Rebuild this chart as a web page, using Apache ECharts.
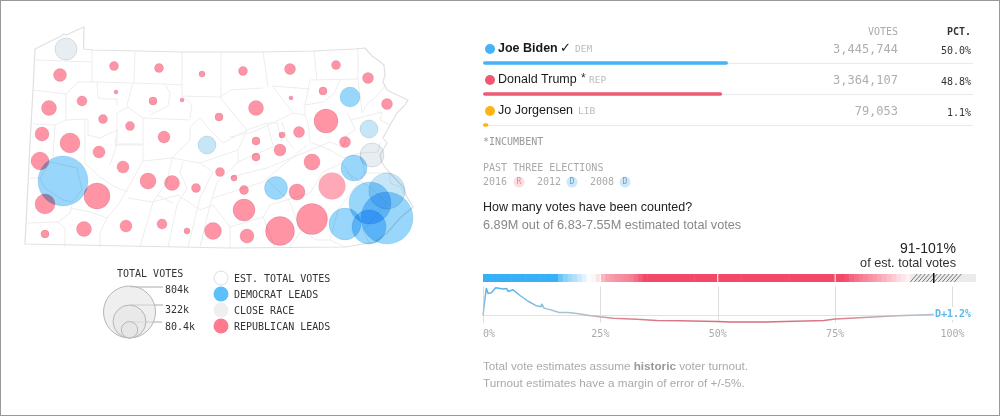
<!DOCTYPE html>
<html><head><meta charset="utf-8">
<style>html,body{margin:0;padding:0;background:#fff}#c{width:1000px;height:416px;position:absolute;left:0;top:0}
#f{position:absolute;left:0;top:0;width:1000px;height:416px;box-sizing:border-box;border:1px solid #999;pointer-events:none}</style>
<script src="https://cdn.jsdelivr.net/npm/echarts@6/dist/echarts.min.js"></script>
</head><body><div id="c"></div><div id="f"></div>
<script>
// County bubbles: [mapX, mapY, total votes in thousands]
const repCounties=[[60,75,50],[114,66,24],[159,68,24],[202,74,11],[49,108,67],[82,101,30],[116,92,5],[153,101,19],[182,100,5],[219,117,19],[103,119,24],[130,126,24],[42,134,58],[70,143,119],[164,137,43],[243,71,24],[290,69,36],[336,65,24],[368,78,36],[387,104,36],[323,91,19],[291,98,5],[256,108,67],[326,121,171],[299,132,36],[282,135,11],[256,141,19],[345,142,36],[99,152,43],[123,167,43],[40,161,96],[97,196,201],[148,181,76],[172,183,67],[196,188,24],[220,172,24],[45,204,119],[45,234,19],[84,229,67],[126,226,43],[162,224,30],[187,231,11],[213,231,86],[280,150,43],[256,157,19],[234,178,11],[244,190,24],[312,162,76],[297,192,76],[244,210,144],[312,219,286],[280,231,250],[247,236,58]];
const repFaintCounties=[[332,186,217]];
const demCounties=[[63,181,743],[350,97,119],[354,168,201],[276,188,157],[370,203,524],[345,224,304],[369,227,344],[387,218,804]];
const demFaintCounties=[[207,145,96],[369,129,96],[387,191,385]];
const closeCounties=[[66,49,144],[372,155,171]];
const legendSizes=[[129.5,312,804],[129.5,321.5,322],[129.5,329.8,80.4]];
const sizeTicks=['804k','322k','80.4k'];
const keyLabels=['EST. TOTAL VOTES','DEMOCRAT LEADS','CLOSE RACE','REPUBLICAN LEADS'];
// State and county boundaries in map units
const stateOutline=[[35,49],[61,36],[63,34],[66,35],[84,27],[83.5,49],[93,50],[182,52],[230,52],[264,52],[314,51],[355,49],[365,48],[372,56],[378,60],[384,65],[385,75],[383,82],[387,90],[395,94],[408,100],[405,105],[397,113],[390,125],[383,138],[387,143],[380,155],[382,163],[389,172],[403,187],[407,197],[413,207],[400,218],[387,233],[375,242],[345,247],[230,248],[25,244],[30,143],[33,90],[35,49]];
const countyLines=[
[[35,60],[92,62]],[[92,50],[92,82]],[[135,52],[134,83]],[[182,52],[182,96]],[[221,53],[221,97],[230,90],[263,88]],[[263,52],[268,87]],[[314,51],[317,80]],
[[358,49],[358,80],[362,113]],[[272,86],[310,89]],[[310,80],[358,79]],[[310,80],[305,105],[323,102],[334,94],[340,80]],[[347,113],[351,120]],[[362,113],[368,103],[376,97],[385,86]],
[[351,120],[382,112],[380,120],[390,125]],[[351,120],[355,130],[347,135],[343,147]],[[305,105],[305,115],[293,113],[273,87]],[[293,113],[273,123],[253,132],[230,137]],
[[33,90],[66,94],[78,82],[97,82],[133,83],[165,84],[182,85]],[[182,96],[221,97]],[[97,82],[98,98],[105,99],[117,99],[117,106]],[[66,94],[66,120],[88,119]],[[33,124],[55,125],[66,120]],[[55,125],[53,157]],
[[133,83],[127,105],[128,107]],[[165,84],[170,93],[168,106],[150,115]],[[182,96],[192,105],[190,118]],[[221,97],[222,100],[247,130]],[[247,130],[223,143],[210,130],[200,118],[190,127],[190,140],[172,158],[143,161]],
[[172,158],[200,163],[238,150],[247,130]],[[143,118],[190,120]],[[143,118],[143,161]],[[143,144],[117,144]],[[117,113],[117,144],[110,165]],[[117,113],[128,107],[143,118]],[[88,119],[88,135],[100,138],[117,130]],[[85,120],[85,163],[100,177]],
[[117,130],[115,145],[142,145]],[[143,161],[128,188],[118,205],[107,218],[100,233],[100,247]],[[172,158],[167,182],[153,202],[140,247]],[[183,162],[180,172],[187,188],[177,205],[168,247]],[[200,163],[213,172],[200,198],[188,247]],
[[238,150],[238,162],[217,182],[210,205],[200,247]],[[247,130],[267,123],[273,145]],[[267,123],[277,123],[282,142]],[[282,122],[287,140],[293,148]],[[238,162],[277,145]],[[227,178],[267,168],[330,142]],[[213,198],[263,182],[307,145]],
[[305,115],[308,123],[310,142],[330,150],[343,158]],[[330,142],[343,147]],[[100,177],[115,187],[128,192]],[[128,198],[152,202],[178,195],[200,210],[213,205]],[[157,195],[173,203]],
[[40,178],[50,162],[77,168],[82,190],[72,202],[63,200],[45,188],[40,178]],[[30,178],[40,178]],[[27,223],[58,222],[65,228],[65,247]],[[58,222],[70,213],[72,205]],[[70,208],[90,212],[107,218]],
[[230,227],[263,217],[270,205],[310,193],[323,172],[342,163],[353,180]],[[290,247],[302,230],[316,240],[330,240],[345,247]],[[300,230],[290,202],[267,180]],[[330,240],[338,210],[348,197],[365,173]],[[390,173],[390,183],[400,187],[405,195],[412,205]],
[[370,187],[387,203],[363,230],[370,245]],[[347,173],[363,183],[370,187]],[[343,158],[360,153],[378,152],[380,143]],[[360,153],[365,173],[390,173]],[[213,205],[230,227],[230,248]],[[263,217],[275,248]]
];
// Candidates
const candidates=['Joe Biden','Donald Trump','Jo Jorgensen'];
const parties=['DEM','REP','LIB'];
const votes=['3,445,744','3,364,107','79,053'];
const pct=[50.0,48.8,1.1];
const pastYears=['2016','2012','2008'];
const pastWinners=['R','D','D'];
// Vote-count strip: share counted (%) and how strongly the running lead leans D(+1) / R(-1)
const stripPct=[0,1,2,3,4,5,6,7,8,9,10,11,12,13,14,15,16,17,18,19,20,21,22,23,24,25,26,27,28,29,30,31,32,33,34,35,40,45,50,55,60,65,70,75,76,77,78,79,80,81,82,83,84,85,86,87,88,89,90];
const stripLean=[1,1,1,1,1,1,1,1,1,1,1,1,1,1,1,1,.75,.6,.5,.4,.28,.15,.03,-.05,-.15,-.4,-.5,-.55,-.6,-.62,-.65,-.7,-.8,-.9,-1,-1,-1,-1,-1,-1,-1,-1,-1,-1,-1,-.95,-.85,-.78,-.72,-.66,-.6,-.54,-.48,-.42,-.35,-.28,-.2,-.14,-.08];
const hatchRange=[[91,101]];
const greyRange=[[91,105]];
const estimateMid=96;
const stripMarks=[25,50,75];
// Running margin (points) against share of vote counted
const marginPct=[0,.7,1.07,1.8,2.7,4.3,5,5.4,6.4,7.9,9.7,11.4,12.4,12.5,13,14.6,16.2,18.1,20,22.7,24.9,27.8,32.8,37,42,50,52.7,60,72.6,75,81,88,96];
const marginPts=[0,27.4,22,22.7,27.7,26.4,27,24,25.7,20,14,9.7,8.7,11.7,7.4,5.4,3,3,2,0,-1.3,-2.7,-3.7,-5,-5.3,-6,-6.6,-6.5,-5,-3.6,-2,-.3,1];

const sans="'Liberation Sans',Arial,sans-serif", mono="'DejaVu Sans Mono',monospace";
const size=v=>2*26*Math.sqrt(v/804);
const T=(text,x,y,font,color,size,weight,align)=>({type:'text',x,y,z:20,style:{text,fontFamily:font,fontSize:size,fontWeight:weight||'normal',fill:color,align:align||'left',verticalAlign:'middle'}});
const rule=(x1,y1,x2,y2,c,w)=>({type:'line',z:1,shape:{x1,y1,x2,y2},style:{stroke:c,lineWidth:w||1}});
const dot=(cx,cy,r,fill,stroke)=>({type:'circle',z:5,shape:{cx,cy,r},style:{fill,stroke:stroke||null,lineWidth:stroke?1:0}});
const bubble=(name,data,fill,stroke)=>({type:'scatter',name,xAxisIndex:0,yAxisIndex:0,data,symbol:'circle',symbolSize:d=>size(d[2]),blendMode:'multiply',silent:true,itemStyle:{color:fill,borderColor:stroke,borderWidth:1,opacity:1},z:3});
const boundary=(paths,color,width,z)=>({type:'custom',xAxisIndex:0,yAxisIndex:0,silent:true,z,
  data:paths.map((p,i)=>[i]),encode:{x:0},clip:false,
  renderItem:(params,api)=>({type:'polyline',shape:{points:paths[params.dataIndex].map(c=>api.coord(c))},style:{stroke:color,lineWidth:width,fill:null,lineJoin:'round'}})});
const stripStops=[[-1,'#f2496a'],[-.5,'#f9a3b1'],[0,'#ffffff'],[.5,'#9fd8f8'],[1,'#37b0f5']];
const stripColor=v=>{
  for(let i=1;i<stripStops.length;i++) if(v<=stripStops[i][0]){
    const a=stripStops[i-1],b=stripStops[i];
    return echarts.color.lerp((v-a[0])/(b[0]-a[0]),[a[1],b[1]]);
  }
  return stripStops[stripStops.length-1][1];
};

const colors=['#45b3f5','#ef5a72','#fdb515'];
const g=[];
const rows=[50,81,112], bars=[63,94,125];
bars.forEach(y=>g.push(rule(483,y+.5,973,y+.5,'#eaeaea')));
candidates.forEach((c,i)=>{
  g.push(dot(490,rows[i]-1,5,colors[i]));
  g.push(T(c,498,rows[i]-1,sans,'#1a1a1a',12.5,i==0?'bold':'normal'));
  g.push(T(votes[i],898,rows[i],mono,'#aeaeae',12,'normal','right'));
  g.push(T(pct[i].toFixed(1)+'%',971,rows[i]+1,mono,'#333',10,'normal','right'));
});
g.push(T('✓',560,49,"'DejaVu Sans'",'#111',13));
g.push(T('*',581,79,sans,'#333',12));
g.push(T(parties[0],575,50,mono,'#bbb',9.5));
g.push(T(parties[1],589,81,mono,'#bbb',9.5));
g.push(T(parties[2],578,112,mono,'#bbb',9.5));
g.push(T('VOTES',898,32,mono,'#aaa',10,'normal','right'));
g.push(T('PCT.',971,32,mono,'#333',10,'bold','right'));
g.push(T('*INCUMBENT',483,142,mono,'#999',10));
g.push(T('PAST THREE ELECTIONS',483,168,mono,'#aaa',10));
const pastX=[483,537,590], badgeX=[519,572,625];
pastYears.forEach((y,i)=>{
  g.push(T(y,pastX[i],182.5,mono,'#aaa',10));
  const r=pastWinners[i]=='R';
  g.push(dot(badgeX[i],182,5.5,r?'#fbdde2':'#cfe7f6'));
  g.push(T(pastWinners[i],badgeX[i],182,mono,r?'#e48a98':'#5aa5d0',8,'normal','center'));
});
g.push(T('How many votes have been counted?',483,208,sans,'#222',12.5));
g.push(T('6.89M out of 6.83-7.55M estimated total votes',483,225,sans,'#888',12.7));
g.push(T('91-101%',956,249,sans,'#222',14,'normal','right'));
g.push(T('of est. total votes',956,263,sans,'#333',12.7,'normal','right'));
g.push({type:'text',x:483,y:367,z:20,style:{text:'Total vote estimates assume {b|historic} voter turnout.',fontFamily:sans,fontSize:11.7,fill:'#aaa',verticalAlign:'middle',rich:{b:{fontFamily:sans,fontSize:11.7,fontWeight:'bold',fill:'#999'}}}});
g.push(T('Turnout estimates have a margin of error of +/-5%.',483,384,sans,'#aaa',11.7));
// Size key and colour key
g.push(T('TOTAL VOTES',117,274,mono,'#333',10));
g.push(rule(130,287,163,287,'#aaa'),rule(130,305,163,305,'#aaa'),rule(130,322,162,322,'#aaa'));
const sizeY=[290,310,327];
sizeTicks.forEach((s,i)=>g.push(T(s,165,sizeY[i],mono,'#333',10)));
const keyY=[278,294,310,326];
g.push(dot(221,278,7,'#fff','#ddd'),dot(221,294,7.5,'#5cc0fa'),dot(221,310,7.5,'#efefef'),dot(221,326,7.5,'#ff7a8e'));
keyLabels.forEach((s,i)=>g.push(T(s,234,keyY[i]+1,mono,'#333',10)));
g.push({type:'rect',z:19,shape:{x:934,y:307,width:42,height:13},style:{fill:'#fff'}});
g.push(T('D+1.2%',935,314,mono,'#5bb8ee',10,'bold'));

const chart=echarts.init(document.getElementById('c'),null,{renderer:'canvas'});
const noAxis={show:false};
chart.setOption({
  animation:false,
  grid:[
    {left:0,top:0,width:1000,height:416},
    {left:483,top:47.5,width:490,height:93},
    {left:483,top:274,width:493,height:8},
    {left:483,top:286.5,width:493,height:36}
  ],
  xAxis:[
    {gridIndex:0,type:'value',min:0,max:1000,...noAxis},
    {gridIndex:1,type:'value',min:0,max:100,...noAxis},
    {gridIndex:2,type:'value',min:0,max:105,...noAxis},
    {gridIndex:3,type:'value',min:0,max:105,interval:25,axisLine:{show:false},axisTick:{show:false},
      splitLine:{show:true,showMaxLine:false,lineStyle:{color:'#ddd',width:1}},
      axisLabel:{margin:7,color:'#aaa',fontFamily:mono,fontSize:10,alignMinLabel:'left',showMaxLabel:false,formatter:v=>v>100?'':v+'%'}}
  ],
  yAxis:[
    {gridIndex:0,type:'value',min:0,max:416,inverse:true,...noAxis},
    {gridIndex:1,type:'category',data:candidates,inverse:true,...noAxis},
    {gridIndex:2,type:'value',min:0,max:1,...noAxis},
    {gridIndex:3,type:'value',min:-7,max:29,interval:7,...noAxis}
  ],
  series:[
    boundary(countyLines,'#ededed',1,1),
    boundary([stateOutline],'#e0e0e0',1.2,2),
    bubble('rep',repCounties,'#ff94a5','#f0e0e8'),
    bubble('repFaint',repFaintCounties,'#ffa8b7','#f5ffff'),
    bubble('dem',demCounties,'#98d6fb','#daeef4'),
    bubble('demFaint',demFaintCounties,'#c6e6f8','#dee6ea'),
    bubble('close',closeCounties,'#e8edf2','#e4e5e8'),
    // strip cells
    {type:'custom',xAxisIndex:2,yAxisIndex:2,silent:true,z:3,
      data:stripPct.map((p,i)=>[p,stripLean[i],i<stripPct.length-1?stripPct[i+1]:91]),
      encode:{x:0},
      renderItem:(params,api)=>{
        const a=api.coord([api.value(0),0]),b=api.coord([api.value(2),1]);
        return {type:'rect',shape:{x:a[0],y:b[1],width:b[0]-a[0]+.5,height:a[1]-b[1]},style:{fill:stripColor(api.value(1))}};
      }},
    // grey/hatched estimate range and marks on the strip
    {type:'custom',xAxisIndex:2,yAxisIndex:2,silent:true,z:4,data:[...greyRange.map(r=>[r[0],r[1],0]),...hatchRange.map(r=>[r[0],r[1],1])],encode:{x:[0,1]},
      renderItem:(params,api)=>{
        const a=api.coord([api.value(0),0]),b=api.coord([api.value(1),1]);
        if(!api.value(2)) return {type:'rect',shape:{x:a[0],y:b[1],width:b[0]-a[0],height:a[1]-b[1]},style:{fill:'#ebebeb'}};
        const kids=[];
        for(let x=a[0];x<b[0]-1;x+=4) kids.push({type:'line',shape:{x1:x,y1:a[1],x2:x+7,y2:b[1]},style:{stroke:'#777',lineWidth:1}});
        return {type:'group',children:kids};
      }},
    {type:'custom',xAxisIndex:2,yAxisIndex:2,silent:true,z:5,data:[...stripMarks.map(m=>[m,0]),[estimateMid,1]],encode:{x:0},
      renderItem:(params,api)=>{
        const a=api.coord([api.value(0),0]),b=api.coord([api.value(0),1]),k=api.value(1);
        return {type:'line',shape:{x1:a[0],y1:a[1]+k,x2:b[0],y2:b[1]-k},style:{stroke:k?'#111':'#fff',lineWidth:k?1.5:1}};
      }},
    // running margin line: blue above the zero line, grey near it, red below
    {type:'line',xAxisIndex:3,yAxisIndex:3,data:marginPct.map((p,i)=>[p,marginPts[i]]),showSymbol:false,silent:true,z:5,
      lineStyle:{width:1.5,color:new echarts.graphic.LinearGradient(0,287,0,323,[
        {offset:0,color:'#58b2e8'},{offset:.45,color:'#7dbde0'},{offset:.72,color:'#a8c2d2'},{offset:.8,color:'#b9b9c0'},{offset:.86,color:'#d98a98'},{offset:1,color:'#d9647a'}],true)},
      markLine:{silent:true,symbol:'none',label:{show:false},lineStyle:{color:'#e2e2e2',width:1,type:'solid'},data:[{yAxis:0}]}},
    // candidate share bars
    {type:'bar',xAxisIndex:1,yAxisIndex:1,data:pct.map((v,i)=>({value:v,itemStyle:{color:colors[i]}})),barWidth:3.5,silent:true,z:4,itemStyle:{borderRadius:2}},
    // size key bubbles
    {type:'scatter',xAxisIndex:0,yAxisIndex:0,data:legendSizes,symbolSize:d=>size(d[2]),silent:true,z:3,itemStyle:{color:'rgba(228,228,228,.6)',borderColor:'#b5b5b5',borderWidth:1,opacity:1}}
  ],
  graphic:g
});
</script></body></html>
